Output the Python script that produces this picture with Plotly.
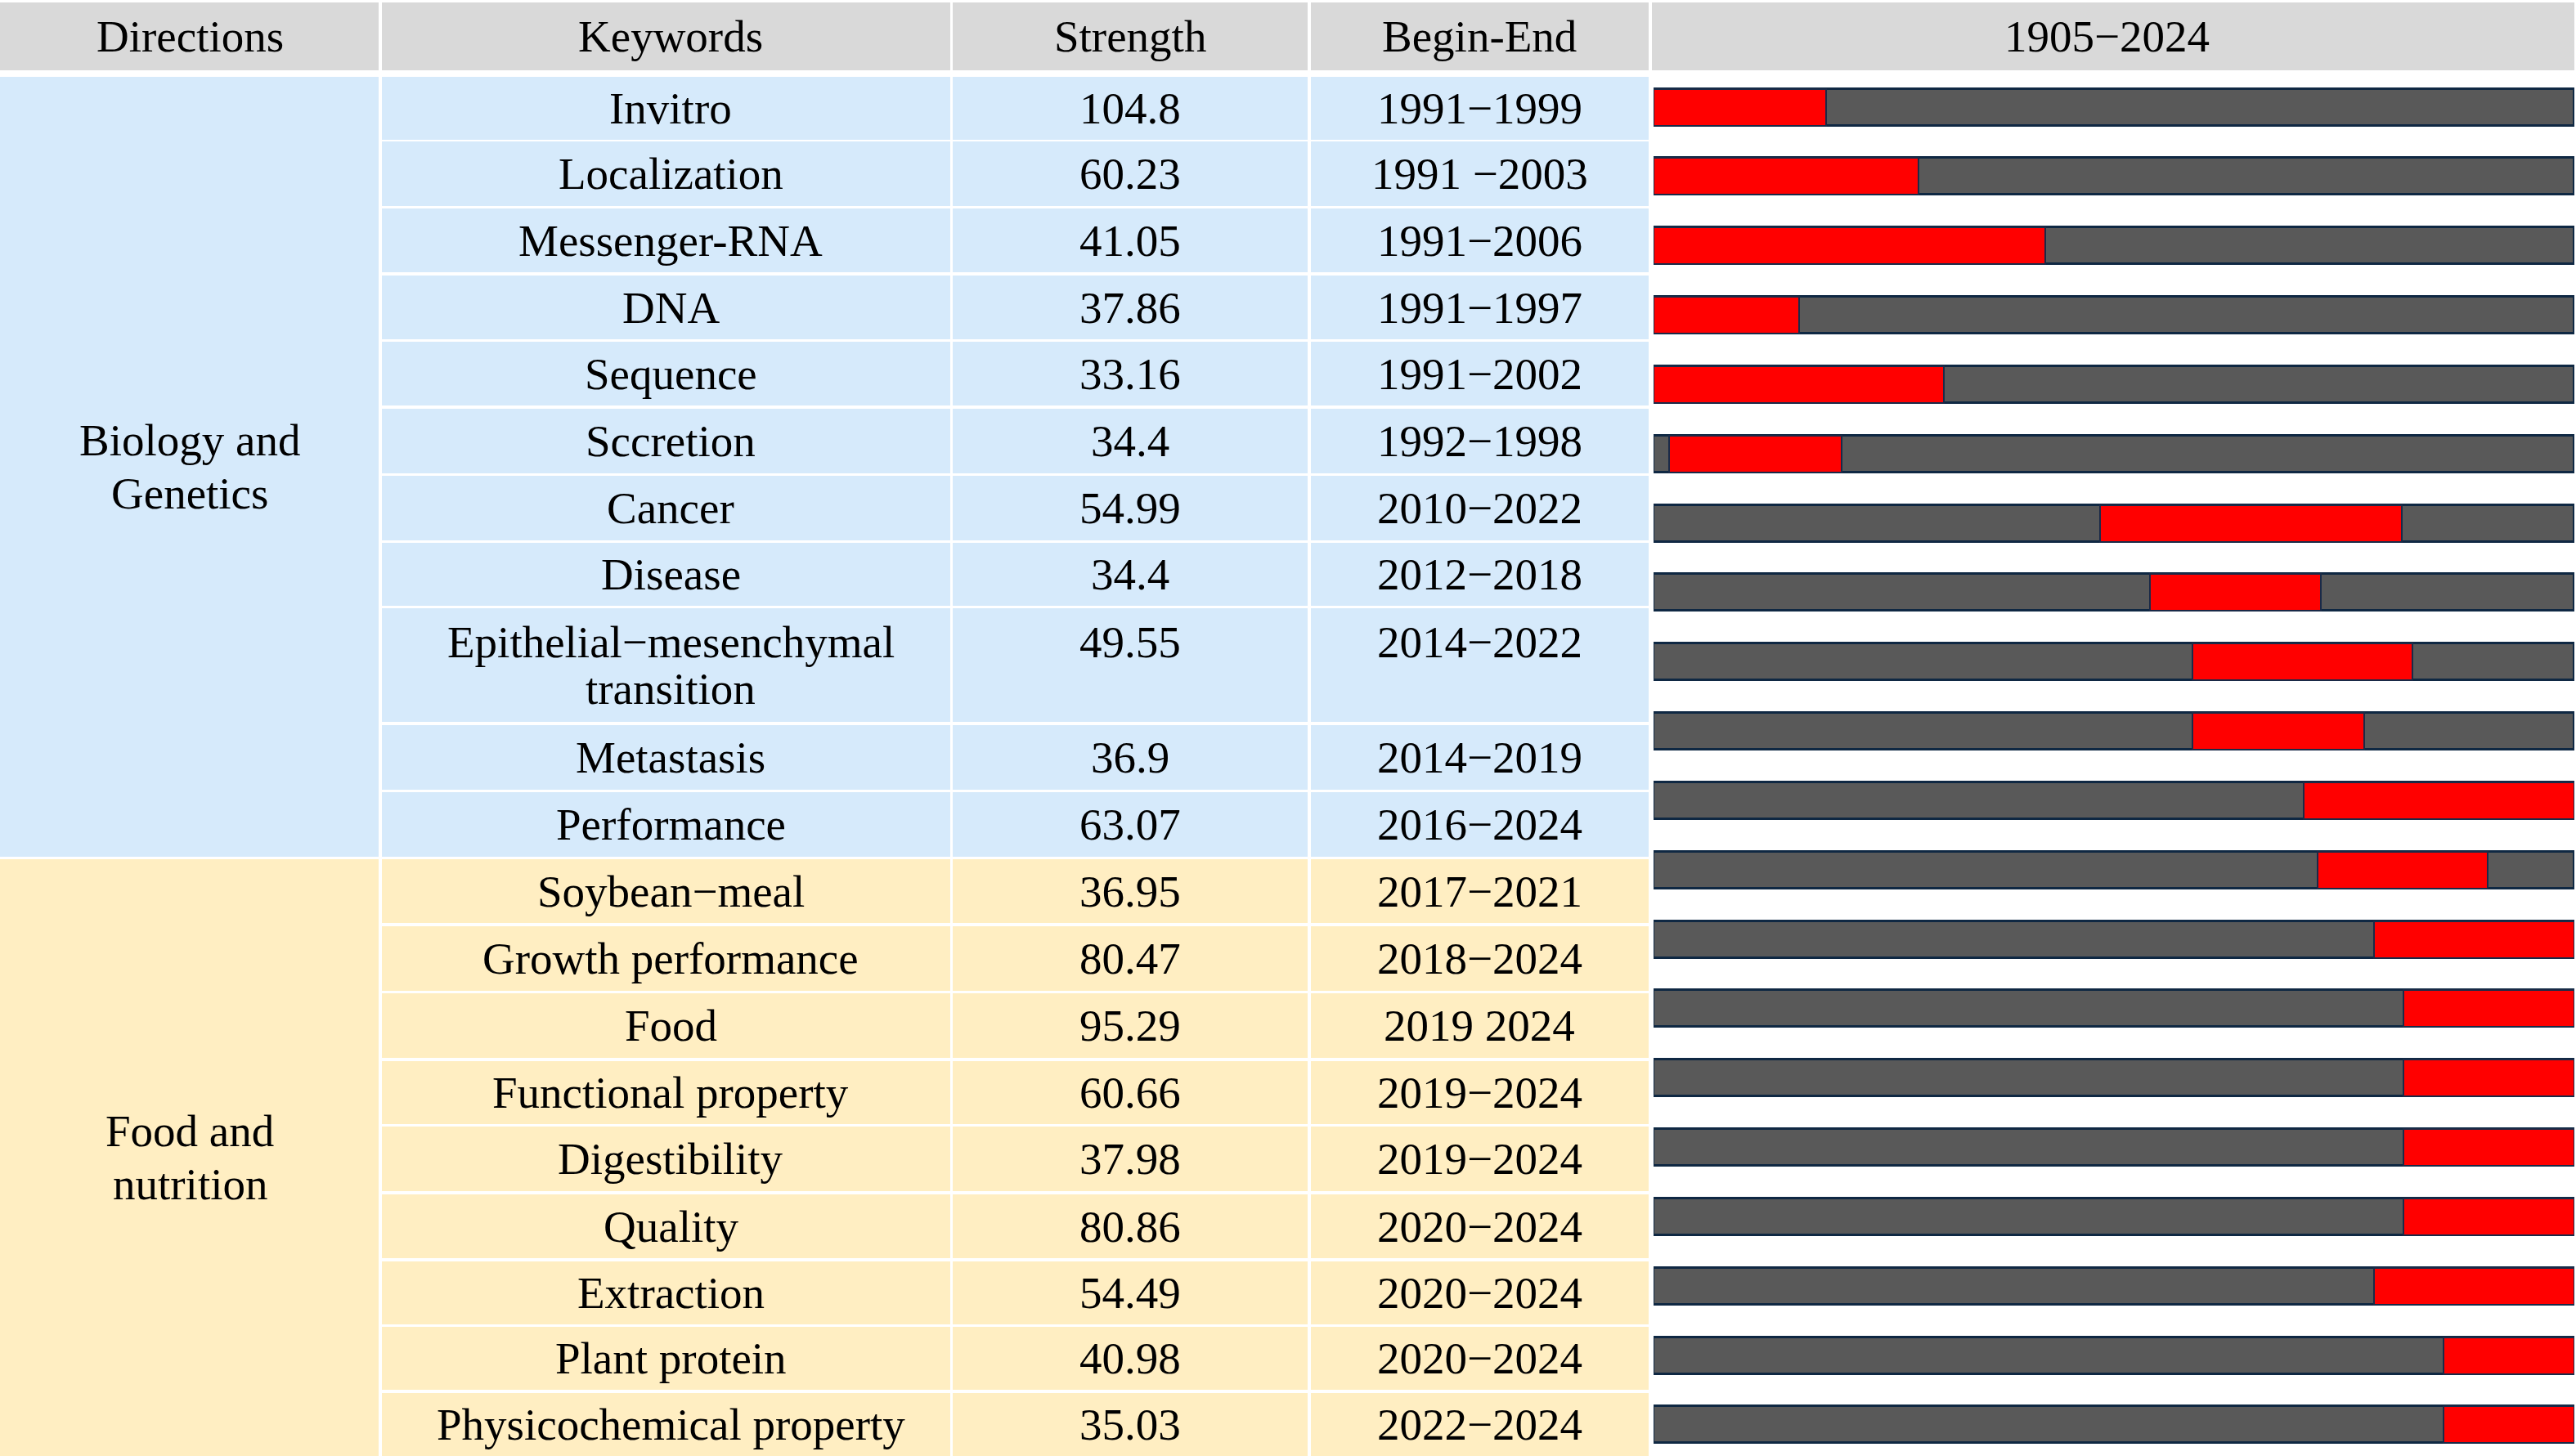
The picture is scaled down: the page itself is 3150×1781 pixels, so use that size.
import plotly.graph_objects as go

# ---------------- data ----------------
header_labels = ["Directions", "Keywords", "Strength", "Begin-End", "1905−2024"]
directions = ["Biology and<br>Genetics", "Food and<br>nutrition"]
direction_counts = [11, 9]
keywords = ["Invitro", "Localization", "Messenger-RNA", "DNA", "Sequence", "Sccretion",
            "Cancer", "Disease", "Epithelial−mesenchymal<br>transition", "Metastasis",
            "Performance", "Soybean−meal", "Growth performance", "Food",
            "Functional property", "Digestibility", "Quality", "Extraction",
            "Plant protein", "Physicochemical property"]
strength = [104.8, 60.23, 41.05, 37.86, 33.16, 34.4, 54.99, 34.4, 49.55, 36.9,
            63.07, 36.95, 80.47, 95.29, 60.66, 37.98, 80.86, 54.49, 40.98, 35.03]
begin_end = ["1991−1999", "1991 −2003", "1991−2006", "1991−1997", "1991−2002",
             "1992−1998", "2010−2022", "2012−2018", "2014−2022", "2014−2019",
             "2016−2024", "2017−2021", "2018−2024", "2019 2024", "2019−2024",
             "2019−2024", "2020−2024", "2020−2024", "2020−2024", "2022−2024"]
# burst segment along the timeline bar, in % of the bar length
burst_start_pct = [0, 0, 0, 0, 0, 1.7, 48.5, 53.9, 58.5, 58.5,
                   70.6, 72.1, 78.2, 81.4, 81.4, 81.4, 81.4, 78.2, 85.8, 85.8]
burst_end_pct = [18.7, 28.8, 42.5, 15.8, 31.5, 20.4, 81.3, 72.5, 82.4, 77.2,
                 100, 90.6, 100, 100, 100, 100, 100, 100, 100, 100]
timeline_total = [100] * len(keywords)

# ---------------- layout geometry (pixels) ----------------
W, H = 3150, 1781
col_edges = [(0, 463), (467, 1162), (1165, 1599), (1603, 2016), (2020, 3148)]
col_text_x = [232, 820, 1382, 1809, 2576]
header_y = (3, 86)
row_edges = [(94, 171), (173, 252), (255, 333), (337, 415), (418, 496), (500, 579),
             (582, 661), (664, 741), (744, 883), (887, 966), (969, 1048), (1051, 1129),
             (1133, 1212), (1215, 1294), (1298, 1375), (1378, 1457), (1461, 1539),
             (1543, 1620), (1623, 1700), (1704, 1781)]
group_colors = ["#D6EAFB", "#FFEEC2"]
header_color = "#D9D9D9"
FONT = "Liberation Serif, Times New Roman, serif"
FS = 55
text_dy = 0
kw_line_gap = 57
dir_line_gap = 65

shapes = []
annotations = []


def rect(x0, y0, x1, y1, color):
    shapes.append(dict(type="rect", xref="x", yref="y", x0=x0, x1=x1, y0=y0, y1=y1,
                       fillcolor=color, line=dict(width=0), layer="below"))


def text(x, y, s):
    annotations.append(dict(x=x, y=y + text_dy, xref="x", yref="y", text=s,
                            showarrow=False, xanchor="center", yanchor="middle",
                            font=dict(family=FONT, size=FS, color="black")))


def multiline(x, yc, s, gap):
    lines = s.split("<br>")
    n = len(lines)
    ys = [yc + (i - (n - 1) / 2) * gap for i in range(n)]
    for yy, ln in zip(ys, lines):
        text(x, yy, ln)
    return ys


# header
for (x0, x1), tx, lab in zip(col_edges, col_text_x, header_labels):
    rect(x0, header_y[0], x1, header_y[1], header_color)
    text(tx, (header_y[0] + header_y[1]) / 2, lab)

# body
row_group = []
for g, c in enumerate(direction_counts):
    row_group += [g] * c

start = 0
for g, (d, c) in enumerate(zip(directions, direction_counts)):
    y0 = row_edges[start][0]
    y1 = row_edges[start + c - 1][1]
    rect(col_edges[0][0], y0, col_edges[0][1], y1, group_colors[g])
    multiline(col_text_x[0], (y0 + y1) / 2, d, dir_line_gap)
    start += c

for i, kw in enumerate(keywords):
    y0, y1 = row_edges[i]
    color = group_colors[row_group[i]]
    for ci in (1, 2, 3):
        rect(col_edges[ci][0], y0, col_edges[ci][1], y1, color)
    yc = (y0 + y1) / 2
    ys = multiline(col_text_x[1], yc, kw, kw_line_gap)
    yv = ys[0]
    text(col_text_x[2], yv, str(strength[i]))
    text(col_text_x[3], yv, begin_end[i])

# ---------------- timeline bars (own axes) ----------------
bar_top_center = 131      # px centre of first bar
bar_spacing = 84.84       # px between bar centres
bar_px = 45
n = len(keywords)
r_top = -bar_top_center / bar_spacing
r_bot = r_top + H / bar_spacing
bw = bar_px / bar_spacing

fig = go.Figure()
fig.add_trace(go.Bar(
    y=keywords, x=timeline_total, base=[0] * n, orientation="h", width=bw,
    marker=dict(color="#595959", line=dict(color="#0F2843", width=3)),
    xaxis="x2", yaxis="y2", hoverinfo="skip", showlegend=False))
fig.add_trace(go.Bar(
    y=keywords, x=[e - s for s, e in zip(burst_start_pct, burst_end_pct)],
    base=burst_start_pct, orientation="h", width=bw,
    marker=dict(color="#FF0000", line=dict(color="#1A2A48", width=2)),
    xaxis="x2", yaxis="y2", hoverinfo="skip", showlegend=False))

fig.update_layout(
    width=W, height=H,
    margin=dict(l=0, r=0, t=0, b=0, pad=0),
    paper_bgcolor="white", plot_bgcolor="rgba(0,0,0,0)",
    barmode="overlay", bargap=0,
    xaxis=dict(range=[0, W], visible=False, domain=[0, 1], fixedrange=True),
    yaxis=dict(range=[H, 0], visible=False, domain=[0, 1], fixedrange=True),
    xaxis2=dict(range=[0, 100], domain=[2022 / W, 3148 / W], anchor="y2",
                visible=False, fixedrange=True),
    yaxis2=dict(type="category", categoryorder="array", categoryarray=keywords,
                range=[r_bot, r_top], domain=[0, 1], anchor="x2",
                overlaying="y", visible=False, fixedrange=True),
    shapes=shapes, annotations=annotations,
    showlegend=False,
)

fig.write_html(
    "out.html",
    config={"displayModeBar": False},
    post_script="document.body.style.margin='0';document.body.style.overflow='hidden';",
)
